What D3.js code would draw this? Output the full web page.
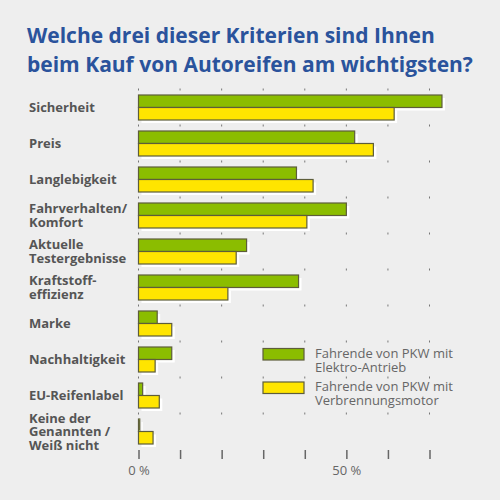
<!DOCTYPE html>
<html><head><meta charset="utf-8">
<script src="https://cdn.jsdelivr.net/npm/d3@7/dist/d3.min.js"></script>
<style>
html,body{margin:0;padding:0;background:#eeeeee;}
svg{display:block;font-family:"Open Sans",sans-serif;}
</style></head>
<body><svg id="c" width="500" height="500"></svg>
<script>
const titleLines = ["Welche drei dieser Kriterien sind Ihnen", "beim Kauf von Autoreifen am wichtigsten?"];
const categories = [
  ["Sicherheit"], ["Preis"], ["Langlebigkeit"], ["Fahrverhalten/", "Komfort"],
  ["Aktuelle", "Testergebnisse"], ["Kraftstoff-", "effizienz"], ["Marke"],
  ["Nachhaltigkeit"], ["EU-Reifenlabel"], ["Keine der", "Genannten /", "Weiß nicht"]
];
const seriesNames = [["Fahrende von PKW mit", "Elektro-Antrieb"], ["Fahrende von PKW mit", "Verbrennungsmotor"]];
const elektro = [73, 52, 38, 50, 26, 38.5, 4.5, 8, 1, 0.3];
const verbrenner = [61.5, 56.5, 42, 40.5, 23.5, 21.5, 8, 4, 5, 3.5];
const tickValues = [0, 10, 20, 30, 40, 50, 60, 70];
const tickLabels = {0: "0 %", 50: "50 %"};
const colors = ["#8bbd00", "#ffe500"];

const svg = d3.select("#c");
svg.append("rect").attr("width", 500).attr("height", 500).attr("fill", "#eeeeee");

// title
svg.append("text").attr("x", 27).attr("y", 43)
  .attr("font-size", 21).attr("font-weight", 700).attr("fill", "#2a539c")
  .selectAll("tspan").data(titleLines).join("tspan")
  .attr("x", 27).attr("dy", (d, i) => i ? 28.5 : 0).text(d => d);

const keys = categories.map((d, i) => i);
const x = d3.scaleLinear().domain([0, 70]).range([138.5, 429.5]);
const y = d3.scaleBand().domain(keys).range([89.5, 449.5]).paddingInner(11 / 36).paddingOuter(11 / 72);
const yi = d3.scaleBand().domain([0, 1]).range([0, y.bandwidth()]);

// dotted grid marks at band boundaries
const bounds = keys.map(k => y(k) - y.step() * y.paddingInner() / 2);
const grid = svg.append("g");
tickValues.forEach(t => {
  bounds.forEach(b => {
    grid.append("line").attr("x1", x(t)).attr("x2", x(t))
      .attr("y1", b - 1).attr("y2", b + 1)
      .attr("stroke", "#777").attr("stroke-width", 1);
  });
});

// bars
const rows = keys.map(k => ({k, vals: [elektro[k], verbrenner[k]]}));
const g = svg.append("g");
rows.forEach(r => {
  r.vals.forEach((v, s) => {
    g.append("rect").attr("x", x(0) + 3).attr("y", y(r.k) + yi(s) + 3)
      .attr("width", x(v) - x(0)).attr("height", yi.bandwidth())
      .attr("fill", "#ffffff");
  });
});
rows.forEach(r => {
  r.vals.forEach((v, s) => {
    g.append("rect").attr("x", x(0)).attr("y", y(r.k) + yi(s))
      .attr("width", x(v) - x(0)).attr("height", yi.bandwidth())
      .attr("fill", colors[s]).attr("stroke", "#5d5d3a").attr("stroke-width", 1.2);
  });
});

// category labels (one text element per category, lines as tspans)
const lab = svg.append("g");
rows.forEach(r => {
  const lines = categories[r.k];
  const cy = y(r.k) + y.bandwidth() / 2;
  const lh = 13.5;
  lab.append("text")
    .attr("x", 29).attr("y", cy + 4.5 - (lines.length - 1) / 2 * lh)
    .attr("font-size", 13).attr("font-weight", 700).attr("fill", "#555")
    .selectAll("tspan").data(lines).join("tspan")
    .attr("x", 29).attr("dy", (d, i) => i ? lh : 0).text(d => d);
});

// axis
const axis = svg.append("g").attr("transform", "translate(0,450)")
  .call(d3.axisBottom(x).tickValues(tickValues).tickSize(9).tickPadding(7)
    .tickFormat(d => tickLabels[d] || ""));
axis.select(".domain").remove();
axis.selectAll(".tick line").attr("stroke", "#666").attr("stroke-width", 1.5);
axis.selectAll(".tick text").attr("font-size", 13).attr("fill", "#666")
  .attr("font-family", "Open Sans, sans-serif");

// legend
const leg = svg.append("g");
seriesNames.forEach((lines, s) => {
  const ly = 348.5 + s * 33.5;
  leg.append("rect").attr("x", 263).attr("y", ly).attr("width", 41).attr("height", 11.5)
    .attr("fill", colors[s]).attr("stroke", "#5d5d3a").attr("stroke-width", 1.2);
  leg.append("text").attr("x", 315).attr("y", ly + 9)
    .attr("font-size", 13).attr("fill", "#666")
    .selectAll("tspan").data(lines).join("tspan")
    .attr("x", 315).attr("dy", (d, i) => i ? 14 : 0).text(d => d);
});
</script></body></html>
